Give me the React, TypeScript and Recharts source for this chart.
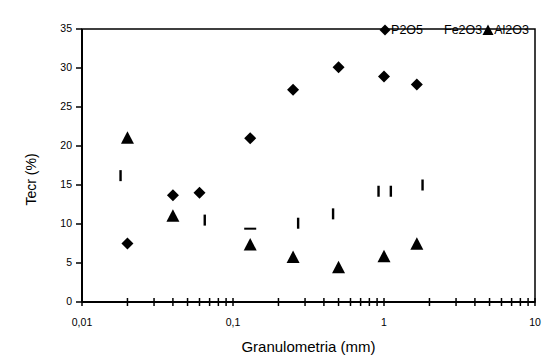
import React from 'react';
import { ScatterChart, Scatter, XAxis, YAxis, ReferenceArea, Legend, Label } from 'recharts';

// ---- data ----
const p2o5X = [0.02, 0.04, 0.06, 0.13, 0.25, 0.5, 1.0, 1.65];
const p2o5Y = [7.5, 13.7, 14.0, 21.0, 27.2, 30.1, 28.9, 27.9];

const fe2o3X = [0.018, 0.065, 0.13, 0.27, 0.46, 0.92, 1.11, 1.8];
const fe2o3Y = [16.2, 10.5, 9.4, 10.1, 11.3, 14.2, 14.2, 15.0];

const al2o3X = [0.02, 0.04, 0.13, 0.25, 0.5, 1.0, 1.65];
const al2o3Y = [21.0, 11.0, 7.3, 5.7, 4.4, 5.8, 7.4];

const xTicks = [
  0.01, 0.02, 0.03, 0.04, 0.05, 0.06, 0.07, 0.08, 0.09,
  0.1, 0.2, 0.3, 0.4, 0.5, 0.6, 0.7, 0.8, 0.9,
  1, 2, 3, 4, 5, 6, 7, 8, 9, 10,
];
const xTickLabelValues = [0.01, 0.1, 1, 10];
const xTickLabelTexts = ['0,01', '0,1', '1', '10'];
const yTicks = [0, 5, 10, 15, 20, 25, 30, 35];

const seriesNames = ['P2O5', 'Fe2O3', 'Al2O3'];
const FE_HORIZONTAL_INDEX = 2;

const zip = (xs: number[], ys: number[]) => xs.map((x, i) => ({ x, y: ys[i] }));
const p2o5Data = zip(p2o5X, p2o5Y);
const fe2o3Data = zip(fe2o3X, fe2o3Y);
const al2o3Data = zip(al2o3X, al2o3Y);

const FONT = '"Liberation Sans", Arial, sans-serif';

const Diamond = (props: any) => {
  const { cx, cy } = props;
  if (cx == null || cy == null) return null;
  const r = 6;
  return <polygon points={`${cx},${cy - r} ${cx + r},${cy} ${cx},${cy + r} ${cx - r},${cy}`} fill="#000" />;
};

const Triangle = (props: any) => {
  const { cx, cy } = props;
  if (cx == null || cy == null) return null;
  return <polygon points={`${cx},${cy - 7} ${cx + 6.5},${cy + 5.5} ${cx - 6.5},${cy + 5.5}`} fill="#000" />;
};

const Bar = (props: any) => {
  const { cx, cy, index } = props;
  if (cx == null || cy == null) return null;
  if (index === FE_HORIZONTAL_INDEX) {
    return <rect x={cx - 6} y={cy - 1} width={12} height={2} fill="#000" />;
  }
  return <rect x={cx - 1.2} y={cy - 5.5} width={2.4} height={11} fill="#000" />;
};

const XTick = (props: any) => {
  const { x, y, payload } = props;
  const idx = xTickLabelValues.findIndex((v) => Math.abs(v - payload.value) < 1e-9);
  return (
    <g>
      <line x1={x} x2={x} y1={y - 4} y2={y + 4} stroke="#000" strokeWidth={1.5} />
      {idx >= 0 && (
        <text x={x} y={y + 21} textAnchor="middle" dominantBaseline="middle" fontSize={10.5} fontFamily={FONT} fill="#000">
          {xTickLabelTexts[idx]}
        </text>
      )}
    </g>
  );
};

const YTick = (props: any) => {
  const { x, y, payload } = props;
  return (
    <g>
      <line x1={x - 6} x2={x} y1={y} y2={y} stroke="#000" strokeWidth={1.5} />
      <text x={x - 10} y={y} textAnchor="end" dominantBaseline="middle" fontSize={10.5} fontFamily={FONT} fill="#000">
        {payload.value}
      </text>
    </g>
  );
};

const LegendContent = () => (
  <div style={{ display: 'flex', alignItems: 'center', fontFamily: FONT, fontSize: 12.5, color: '#000', whiteSpace: 'nowrap' }}>
    <svg width={12} height={12} style={{ marginRight: 0 }}>
      <polygon points="6,0.5 11.5,6 6,11.5 0.5,6" fill="#000" />
    </svg>
    <span>{seriesNames[0]}</span>
    <span style={{ marginLeft: 21 }}>{seriesNames[1]}</span>
    <svg width={12} height={12}>
      <polygon points="6,0.5 11.5,11 0.5,11" fill="#000" />
    </svg>
    <span>{seriesNames[2]}</span>
  </div>
);

const YLabel = (props: any) => {
  const vb = props.viewBox || {};
  const cx = 32;
  const cy = vb.y + vb.height / 2 + 14;
  return (
    <text x={cx} y={cy} transform={`rotate(-90 ${cx} ${cy})`} textAnchor="middle" dominantBaseline="middle" fontSize={14} fontFamily={FONT} fill="#000">
      Tecr (%)
    </text>
  );
};

export default function App() {
  return (
    <div style={{ position: 'absolute', left: 0, top: 0, width: 542, height: 359, background: '#fff' }}>
      <ScatterChart width={542} height={359} margin={{ top: 15, right: 7, bottom: 27, left: 22 }}>
        <ReferenceArea x1={0.01} x2={10} y1={0} y2={35} fill="none" stroke="#000" strokeWidth={1.5} />
        <XAxis
          type="number"
          dataKey="x"
          scale="log"
          domain={[0.01, 10]}
          ticks={xTicks}
          interval={0}
          allowDataOverflow
          height={30}
          tickSize={0}
          tickMargin={0}
          tickLine={false}
          tick={<XTick />}
          axisLine={{ stroke: '#000', strokeWidth: 2 }}
        >
          <Label value="Granulometria (mm)" position="bottom" offset={9} style={{ fontSize: 15, fontFamily: FONT, fill: '#000' }} />
        </XAxis>
        <YAxis
          type="number"
          dataKey="y"
          domain={[0, 35]}
          ticks={yTicks}
          interval={0}
          width={60}
          tickSize={0}
          tickMargin={0}
          tickLine={false}
          tick={<YTick />}
          axisLine={{ stroke: '#000', strokeWidth: 2 }}
        >
          <Label content={<YLabel />} />
        </YAxis>
        <Legend verticalAlign="top" align="right" content={<LegendContent />} wrapperStyle={{ position: 'absolute', top: 23, right: 13, left: 'auto', width: 'auto' }} />
        <Scatter name={seriesNames[0]} data={p2o5Data} shape={<Diamond />} isAnimationActive={false} />
        <Scatter name={seriesNames[1]} data={fe2o3Data} shape={<Bar />} isAnimationActive={false} />
        <Scatter name={seriesNames[2]} data={al2o3Data} shape={<Triangle />} isAnimationActive={false} />
      </ScatterChart>
    </div>
  );
}
